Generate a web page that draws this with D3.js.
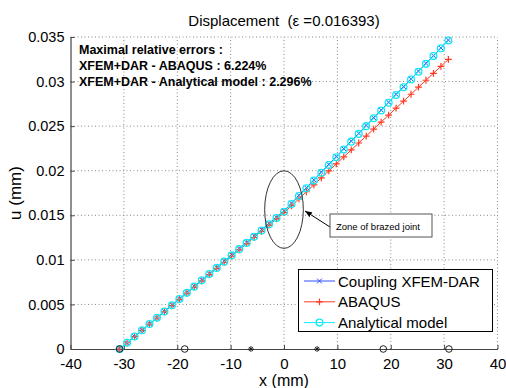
<!DOCTYPE html>
<html>
<head>
<meta charset="utf-8">
<script src="https://cdn.jsdelivr.net/npm/d3@7"></script>
<style>
  html, body { margin: 0; padding: 0; background: #fff; }
  svg { display: block; font-family: "Liberation Sans", Arial, sans-serif; }
  text { white-space: pre; }
</style>
</head>
<body>
<div id="chart"></div>
<script>
// Position along the specimen (mm)
const xPos = [-30.8, -29.4, -28.0, -26.6, -25.2, -23.8, -22.4, -21.0, -19.6, -18.2, -16.8,
  -15.4, -14.0, -12.6, -11.2, -9.8, -8.4, -7.0, -5.6, -4.2, -2.8, -1.4, 0,
  1.4, 2.8, 4.2, 5.6, 7.0, 8.4, 9.8, 11.2, 12.6, 14.0, 15.4, 16.8, 18.2, 19.6,
  21.0, 22.4, 23.8, 25.2, 26.6, 28.0, 29.4, 30.8];

// Displacement u (mm) for each model
const uXfem = [0, 0.00070, 0.00141, 0.00211, 0.00282, 0.00352, 0.00422, 0.00493, 0.00563, 0.00634, 0.00704,
  0.00774, 0.00845, 0.00915, 0.00986, 0.01056, 0.01126, 0.01197, 0.01267, 0.01338, 0.01408, 0.01478, 0.01549,
  0.01636, 0.01723, 0.01810, 0.01897, 0.01985, 0.02072, 0.02159, 0.02246, 0.02333, 0.02420, 0.02507, 0.02594,
  0.02681, 0.02768, 0.02856, 0.02943, 0.03030, 0.03117, 0.03204, 0.03291, 0.03378, 0.03465];

const uAbaqus = [0, 0.00070, 0.00139, 0.00209, 0.00278, 0.00348, 0.00417, 0.00487, 0.00556, 0.00626, 0.00695,
  0.00765, 0.00834, 0.00904, 0.00973, 0.01043, 0.01112, 0.01182, 0.01251, 0.01321, 0.01390, 0.01460, 0.01529,
  0.01607, 0.01685, 0.01764, 0.01842, 0.01920, 0.01998, 0.02076, 0.02155, 0.02233, 0.02311, 0.02389, 0.02467,
  0.02546, 0.02624, 0.02702, 0.02780, 0.02858, 0.02937, 0.03015, 0.03093, 0.03171, 0.03249];

const uAnalytical = [0, 0.00070, 0.00140, 0.00210, 0.00280, 0.00350, 0.00420, 0.00490, 0.00560, 0.00630, 0.00700,
  0.00770, 0.00840, 0.00910, 0.00980, 0.01050, 0.01120, 0.01190, 0.01260, 0.01330, 0.01400, 0.01470, 0.01540,
  0.01627, 0.01715, 0.01802, 0.01889, 0.01977, 0.02064, 0.02151, 0.02238, 0.02326, 0.02413, 0.02500, 0.02588,
  0.02675, 0.02762, 0.02850, 0.02937, 0.03024, 0.03111, 0.03199, 0.03286, 0.03373, 0.03461];

// Geometry marks drawn on the x axis
const circleMarks = [-30.8, -18.6, 18.6, 30.9];
const starMarks = [-6.2, 6.2];

const xTicks = [-40, -30, -20, -10, 0, 10, 20, 30, 40];
const yTicks = [0, 0.005, 0.01, 0.015, 0.02, 0.025, 0.03, 0.035];

const seriesNames = ['Coupling XFEM-DAR', 'ABAQUS', 'Analytical model'];
const errorLines = ['Maximal relative errors :', 'XFEM+DAR - ABAQUS : 6.224%', 'XFEM+DAR - Analytical model : 2.296%'];

const W = 506, H = 388;
const plot = { left: 70.5, right: 497.5, top: 37, bottom: 349 };

const svg = d3.select('#chart').append('svg')
  .attr('width', W).attr('height', H);

const x = d3.scaleLinear().domain([-40, 40]).range([plot.left, plot.right]);
const y = d3.scaleLinear().domain([0, 0.035]).range([plot.bottom, plot.top]);

// grid
svg.append('g').selectAll('line').data(xTicks.slice(1)).join('line')
  .attr('x1', d => x(d)).attr('x2', d => x(d))
  .attr('y1', plot.bottom).attr('y2', plot.top)
  .attr('stroke', '#888').attr('stroke-width', 1)
  .attr('stroke-dasharray', '1,2.5');
svg.append('g').selectAll('line').data(yTicks.slice(1)).join('line')
  .attr('x1', plot.left).attr('x2', plot.right)
  .attr('y1', d => y(d)).attr('y2', d => y(d))
  .attr('stroke', '#888').attr('stroke-width', 1)
  .attr('stroke-dasharray', '1,2.5');

// axes (plain hyphen for negatives, like the original)
const xAxis = svg.append('g').attr('transform', `translate(0,${plot.bottom})`)
  .call(d3.axisBottom(x).tickValues(xTicks).tickSizeInner(-4).tickSizeOuter(0).tickPadding(9)
    .tickFormat(d => String(d)));
const yAxis = svg.append('g').attr('transform', `translate(${plot.left},0)`)
  .call(d3.axisLeft(y).tickValues(yTicks).tickSizeInner(-4).tickSizeOuter(0).tickPadding(6)
    .tickFormat(d => d === 0 ? '0' : String(+d.toFixed(3))));
[xAxis, yAxis].forEach(g => {
  g.select('.domain').attr('stroke', '#444').attr('stroke-width', 1.2);
  g.selectAll('.tick line').attr('stroke', '#444');
  g.selectAll('text').attr('fill', '#000').attr('font-size', 15)
    .attr('font-family', '"Liberation Sans", Arial, sans-serif');
});
yAxis.selectAll('text').attr('font-size', 14.5);

// labels
svg.append('text').attr('x', 284).attr('y', 26).attr('text-anchor', 'middle')
  .attr('font-size', 15).text('Displacement  (\u03b5 =0.016393)');
svg.append('text').attr('x', x(0)).attr('y', 386).attr('text-anchor', 'middle')
  .attr('font-size', 16).text('x (mm)');
svg.append('text').attr('transform', `translate(21,${(plot.top + plot.bottom) / 2}) rotate(-90)`)
  .attr('text-anchor', 'middle').attr('font-size', 17).text('u (mm)');

// series
const colors = ['#3050ff', '#ff3a22', '#10eaf5'];
const series = [uXfem, uAbaqus, uAnalytical];
const line = d3.line().x(d => x(d[0])).y(d => y(d[1]));

function drawMarker(g, type, cx, cy, color) {
  if (type === 'x') {
    const s = 2.4;
    g.append('path').attr('d', `M${cx - s},${cy - s}L${cx + s},${cy + s}M${cx - s},${cy + s}L${cx + s},${cy - s}`)
      .attr('stroke', color).attr('stroke-width', 1).attr('fill', 'none');
  } else if (type === '+') {
    const s = 3.4;
    g.append('path').attr('d', `M${cx - s},${cy}L${cx + s},${cy}M${cx},${cy - s}L${cx},${cy + s}`)
      .attr('stroke', color).attr('stroke-width', 1.2).attr('fill', 'none');
  } else if (type === 'o') {
    g.append('circle').attr('cx', cx).attr('cy', cy).attr('r', 3.4)
      .attr('stroke', color).attr('stroke-width', 1.3).attr('fill', 'none');
  } else if (type === '*') {
    const s = 3;
    const d = s * 0.7;
    g.append('path').attr('d', `M${cx - s},${cy}L${cx + s},${cy}M${cx},${cy - s}L${cx},${cy + s}M${cx - d},${cy - d}L${cx + d},${cy + d}M${cx - d},${cy + d}L${cx + d},${cy - d}`)
      .attr('stroke', color).attr('stroke-width', 1).attr('fill', 'none');
  }
}

const markerTypes = ['x', '+', 'o'];
series.forEach((vals, k) => {
  const pts = xPos.map((xv, i) => [xv, vals[i]]);
  const g = svg.append('g');
  g.append('path').datum(pts).attr('d', line)
    .attr('fill', 'none').attr('stroke', colors[k]).attr('stroke-width', 1);
  pts.forEach(p => drawMarker(g, markerTypes[k], x(p[0]), y(p[1]), colors[k]));
});

// marks on the x axis
const axisMarks = svg.append('g');
circleMarks.forEach(v => {
  axisMarks.append('circle').attr('cx', x(v)).attr('cy', y(0)).attr('r', 3.3)
    .attr('fill', 'none').attr('stroke', '#222').attr('stroke-width', 1);
});
starMarks.forEach(v => drawMarker(axisMarks, '*', x(v), y(0), '#222'));

// brazed joint zone
svg.append('ellipse')
  .attr('cx', x(0)).attr('cy', y(0.01564))
  .attr('rx', x(3.62) - x(0)).attr('ry', y(0) - y(0.00435))
  .attr('fill', 'none').attr('stroke', '#333').attr('stroke-width', 1);

svg.append('defs').append('marker')
  .attr('id', 'arrow').attr('viewBox', '0 0 10 10').attr('refX', 10).attr('refY', 5)
  .attr('markerWidth', 7).attr('markerHeight', 7).attr('orient', 'auto')
  .append('path').attr('d', 'M0,1L10,5L0,9z').attr('fill', '#000');

svg.append('line').attr('x1', 330).attr('y1', 227).attr('x2', 305).attr('y2', 211)
  .attr('stroke', '#000').attr('stroke-width', 1).attr('marker-end', 'url(#arrow)');
svg.append('rect').attr('x', 330).attr('y', 214).attr('width', 102).attr('height', 23)
  .attr('fill', '#fff').attr('stroke', '#555').attr('stroke-width', 1);
svg.append('text').attr('x', 336).attr('y', 229.5).attr('font-size', 9.5)
  .text('Zone of brazed joint');

// error text box
svg.append('g').selectAll('text').data(errorLines).join('text')
  .attr('x', 79).attr('y', (d, i) => 54 + i * 16)
  .attr('font-size', 12.5).attr('font-weight', 'bold').text(d => d);

// legend
const legend = svg.append('g');
legend.append('rect').attr('x', 298.5).attr('y', 269.5).attr('width', 194).attr('height', 62)
  .attr('fill', '#fff').attr('stroke', '#000').attr('stroke-width', 1);
seriesNames.forEach((name, k) => {
  const ly = 281 + k * 20.8;
  legend.append('line').attr('x1', 304).attr('x2', 335).attr('y1', ly).attr('y2', ly)
    .attr('stroke', colors[k]).attr('stroke-width', 1);
  drawMarker(legend, markerTypes[k], 319.5, ly, colors[k]);
  legend.append('text').attr('x', 338).attr('y', ly + 5.5).attr('font-size', 15).text(name);
});
</script>
</body>
</html>
